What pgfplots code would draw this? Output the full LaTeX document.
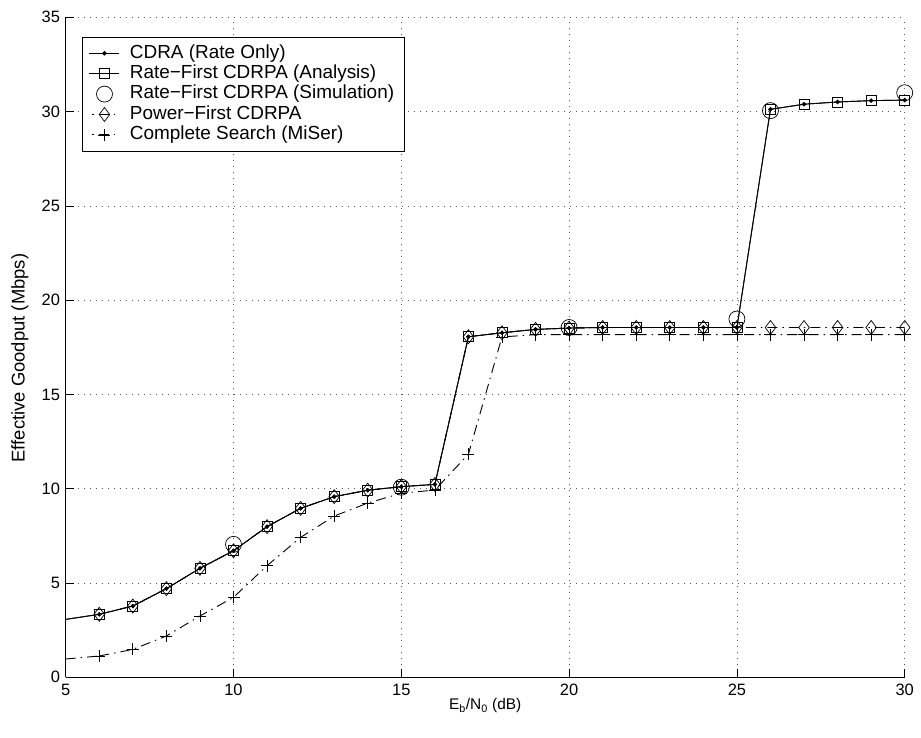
\documentclass[border=0pt]{standalone}
\usepackage{fontspec}
\setmainfont{Liberation Sans}
\usepackage{pgfplots}
\pgfplotsset{compat=1.18}

\begin{document}
\begin{tikzpicture}
\begin{axis}[
  name=ax,
  scale only axis,
  width=839bp, height=660bp,
  xmin=5, xmax=30, ymin=0, ymax=35,
  xtick={5,10,...,30}, ytick={0,5,...,35},
  axis lines*=left,
  axis line style={black, line width=0.8bp},
  tick align=inside, major tick length=8bp,
  tick style={black, line width=0.6bp},
  grid=major,
  grid style={black!65, line width=0.6bp, dash pattern=on 1bp off 5bp},
  /pgf/number format/assume math mode=true,
  tick label style={font=\fontsize{16.5}{19}\selectfont},
  yticklabel style={inner xsep=5.5bp},
  xticklabel style={yshift=-3.5bp},
  xlabel={E\textsubscript{b}/N\textsubscript{0} (dB)},
  ylabel={Effective Goodput (Mbps)},
  xlabel style={font=\fontsize{15.5}{18}\selectfont,
    at={(axis description cs:0.5,-0.0495)}, anchor=base},
  ylabel style={font=\fontsize{18.5}{22}\selectfont,
    at={(axis description cs:-0.0545,0.4838)}, anchor=center},
  legend style={at={(axis description cs:0.019,0.9706)}, anchor=north west,
    draw=black, line width=0.8bp, font=\fontsize{19}{22}\selectfont,
    inner xsep=7bp, inner ysep=6bp,
    cells={anchor=west}, row sep=0bp, column sep=7bp,
    nodes={inner xsep=3bp, inner ysep=0bp, text height=15bp, text depth=5.4bp}},
  legend image code/.code={\draw[mark repeat=2,mark phase=2,#1,dash phase=12bp]
    plot coordinates {(0bp,0bp) (15bp,0bp) (30bp,0bp)};},
]
% CDRA (rate only)
\addplot[forget plot, black, line width=0.9bp] coordinates {(5,3.07) (6,3.34)};
\addplot[black, line width=0.9bp, mark=*, mark size=1.8bp] coordinates {
  (6,3.34) (7,3.78) (8,4.70) (9,5.78) (10,6.71) (11,7.99) (12,8.96) (13,9.58)
  (14,9.92) (15,10.11) (16,10.23) (17,18.06) (18,18.27) (19,18.45) (20,18.52)
  (21,18.55) (22,18.55) (23,18.55) (24,18.55) (25,18.55) (26,30.12) (27,30.39)
  (28,30.51) (29,30.58) (30,30.61)};
\addlegendentry{CDRA (Rate Only)}
% Rate-first CDRPA, analysis
\addplot[forget plot, black, line width=0.9bp] coordinates {(5,3.07) (6,3.34)};
\addplot[black, line width=0.9bp, mark=square, mark size=5bp,
  mark options={line width=0.7bp}] coordinates {
  (6,3.34) (7,3.78) (8,4.70) (9,5.78) (10,6.71) (11,7.99) (12,8.96) (13,9.58)
  (14,9.92) (15,10.11) (16,10.23) (17,18.06) (18,18.27) (19,18.45) (20,18.52)
  (21,18.55) (22,18.55) (23,18.55) (24,18.55) (25,18.55) (26,30.12) (27,30.39)
  (28,30.51) (29,30.58) (30,30.61)};
\addlegendentry{Rate−First CDRPA (Analysis)}
% Rate-first CDRPA, simulation
\addplot[only marks, black, mark=o, mark size=8bp,
  mark options={line width=0.7bp}] coordinates {
  (10,7.05) (15,10.08) (20,18.55) (25,19.0) (26,30.05) (30,31.0)};
\addlegendentry{Rate−First CDRPA (Simulation)}
% Power-first CDRPA
\addplot[black, line width=0.9bp, dash pattern=on 10bp off 5bp on 1.5bp off 5bp,
  mark=diamond, mark size=7bp, mark options={solid, line width=0.7bp}] coordinates {
  (6,3.34) (7,3.78) (8,4.70) (9,5.78) (10,6.71) (11,7.99) (12,8.96) (13,9.58)
  (14,9.92) (15,10.11) (16,10.23) (17,18.06) (18,18.27) (19,18.45) (20,18.52)
  (21,18.55) (22,18.55) (23,18.55) (24,18.55) (25,18.55) (26,18.55) (27,18.55)
  (28,18.55) (29,18.55) (30,18.55)};
\addlegendentry{Power−First CDRPA}
% Complete search (MiSer)
\addplot[forget plot, black, line width=0.9bp,
  dash pattern=on 10bp off 5bp on 1.5bp off 5bp] coordinates {(5,0.97) (6,1.13)};
\addplot[black, line width=0.9bp, dash pattern=on 10bp off 5bp on 1.5bp off 5bp,
  mark=+, mark size=6bp, mark options={solid, line width=0.7bp}] coordinates {
  (6,1.13) (7,1.48) (8,2.19) (9,3.25) (10,4.24) (11,5.92) (12,7.42) (13,8.55)
  (14,9.24) (15,9.76) (16,9.93) (17,11.83) (18,18.05) (19,18.17) (20,18.17)
  (21,18.17) (22,18.17) (23,18.17) (24,18.17) (25,18.17) (26,18.17) (27,18.17)
  (28,18.17) (29,18.17) (30,18.17)};
\addlegendentry{Complete Search (MiSer)}
\end{axis}
% page margins around the axis box
\path (ax.south west) ++(-65.7bp,-60.7bp);
\path (ax.north east) ++(16.3bp,17.3bp);
\end{tikzpicture}
\end{document}
